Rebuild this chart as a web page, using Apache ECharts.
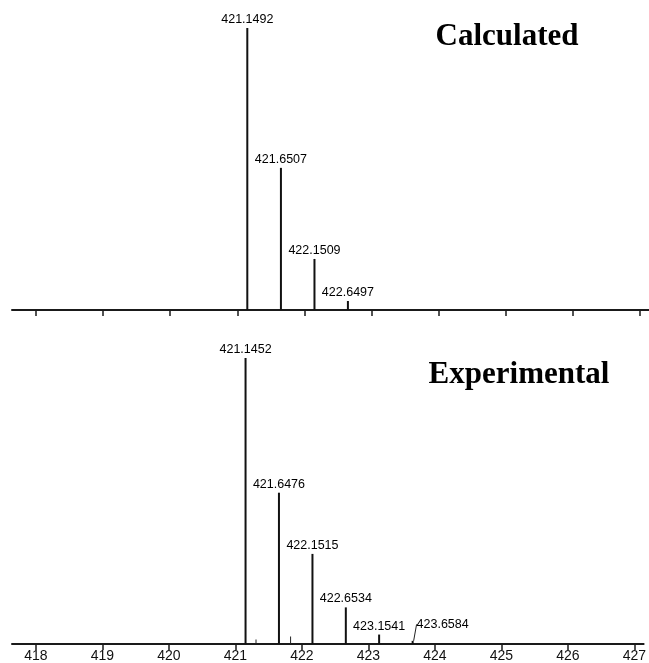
<!DOCTYPE html>
<html>
<head>
<meta charset="utf-8">
<script src="https://cdn.jsdelivr.net/npm/echarts@6/dist/echarts.min.js"></script>
<style>
  html, body { margin: 0; padding: 0; background: #fff; }
  #chart { width: 649px; height: 663px; }
</style>
</head>
<body>
<div id="chart"></div>
<script>
// m/z 刻度
const tickValues = [418, 419, 420, 421, 422, 423, 424, 425, 426, 427];

// 计算值 (相对强度 %)
const calcMz = [421.1492, 421.6507, 422.1509, 422.6497];
const calcInt = [100, 50.4, 18.1, 3.2];

// 实验值 (相对强度 %)
const expMz = [421.1452, 421.6476, 422.1515, 422.6534, 423.1541, 423.6584];
const expInt = [100, 52.9, 31.5, 12.8, 3.3, 1.1];
// 未标注的小峰
const expMinorMz = [421.31, 421.83];
const expMinorInt = [1.6, 2.6];

const xMin = 417.64, xMax = 427.14;

const labelFont = 'Liberation Sans, Arial, sans-serif';

const myChart = echarts.init(document.getElementById('chart'));

// 共用的x轴
const makeX = (gridIndex, showLabel) => ({
  type: 'value',
  gridIndex: gridIndex,
  min: xMin,
  max: xMax,
  splitLine: { show: false },
  axisLine: { show: true, onZero: false, lineStyle: { color: '#1a1a1a', width: 2 } },
  axisTick: {
    show: true,
    inside: false,
    length: 6,
    customValues: tickValues,
    lineStyle: { color: '#1a1a1a', width: 1.5 }
  },
  axisLabel: {
    show: showLabel,
    customValues: tickValues,
    color: '#111',
    fontSize: 14,
    fontFamily: labelFont,
    margin: 5,
    formatter: v => String(Math.round(v))
  }
});

const makeY = (gridIndex) => ({
  type: 'value',
  gridIndex: gridIndex,
  min: 0,
  max: 100,
  show: false
});

const peakData = (mz, ints) => mz.map((m, i) => [m, ints[i]]);

const peakLabel = {
  show: true,
  position: 'top',
  distance: 2,
  color: '#000',
  fontSize: 12.5,
  fontFamily: labelFont,
  formatter: p => p.value[0].toFixed(4)
};

// 实验数据，最后一个峰的标签带引导线
const expData = peakData(expMz, expInt);
expData[expData.length - 1] = {
  value: expData[expData.length - 1],
  labelLine: { show: true, lineStyle: { color: '#222', width: 1 } }
};

myChart.setOption({
  backgroundColor: '#fff',
  animation: false,
  grid: [
    { left: 12, right: 0, top: 28, height: 282 },
    { left: 12, right: 0, top: 358, height: 286 }
  ],
  xAxis: [makeX(0, false), makeX(1, true)],
  yAxis: [makeY(0), makeY(1)],
  graphic: [
    {
      type: 'text',
      style: {
        x: 507, y: 37, text: 'Calculated', textAlign: 'center', textVerticalAlign: 'middle',
        font: 'bold 31px "Liberation Serif", "Times New Roman", serif', fill: '#000'
      }
    },
    {
      type: 'text',
      style: {
        x: 519, y: 375, text: 'Experimental', textAlign: 'center', textVerticalAlign: 'middle',
        font: 'bold 31px "Liberation Serif", "Times New Roman", serif', fill: '#000'
      }
    }
  ],
  series: [
    {
      name: 'Calculated',
      type: 'bar',
      xAxisIndex: 0,
      yAxisIndex: 0,
      barWidth: 2,
      itemStyle: { color: '#111' },
      label: peakLabel,
      data: peakData(calcMz, calcInt)
    },
    {
      name: 'Experimental',
      type: 'bar',
      xAxisIndex: 1,
      yAxisIndex: 1,
      barWidth: 2,
      barGap: '-100%',
      itemStyle: { color: '#111' },
      label: peakLabel,
      labelLayout: p => p.dataIndex === expMz.length - 1 ? { dx: 30, dy: -8 } : {},
      data: expData
    },
    {
      name: 'minor',
      type: 'bar',
      xAxisIndex: 1,
      yAxisIndex: 1,
      barWidth: 1,
      barGap: '-100%',
      itemStyle: { color: '#222' },
      data: peakData(expMinorMz, expMinorInt)
    }
  ]
});

window.addEventListener('resize', function () {
  myChart.resize();
});
</script>
</body>
</html>
